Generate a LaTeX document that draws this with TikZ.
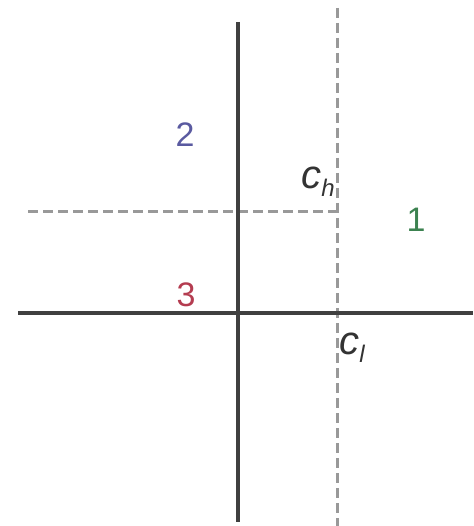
\documentclass[tikz,border=0pt]{standalone}
\usepackage{fontspec}
\setmainfont{Liberation Sans}
\begin{document}
\begin{tikzpicture}[x=1pt,y=-1pt,
  solidax/.style={line width=3.5pt,draw=black!75},
  dashax/.style={line width=3pt,draw=black!40,dash pattern=on 10pt off 5pt},
  lbl/.style={font=\fontsize{34}{34}\selectfont,inner sep=0pt}]
\useasboundingbox (0,0) rectangle (473,526);
\coordinate (vt) at (238,22); \coordinate (vb) at (238,522);
\coordinate (hl) at (18,313); \coordinate (hr) at (473,313);
\coordinate (dvt) at (337,8); \coordinate (dvb) at (337,526);
\coordinate (dhl) at (28,212); \coordinate (dhr) at (337,212);
\draw[dashax] (dvt) -- (dvb);
\draw[dashax] (dhl) -- (dhr);
\draw[solidax] (vt) -- (vb);
\draw[solidax] (hl) -- (hr);
\node[lbl,text={rgb,255:red,90;green,90;blue,160}] (n2) at (185,135) {2};
\node[lbl,text={rgb,255:red,60;green,130;blue,80}] (n1) at (416,220) {1};
\node[lbl,text={rgb,255:red,180;green,60;blue,80}] (n3) at (186,295) {3};
\node[inner sep=0pt,text=black!80] (ch) at (318,182) {\fontsize{40}{40}\selectfont\itshape c\raisebox{-8pt}{\fontsize{24}{24}\selectfont h}};
\node[inner sep=0pt,text=black!80] (cl) at (352,348) {\fontsize{40}{40}\selectfont\itshape c\raisebox{-8pt}{\fontsize{24}{24}\selectfont l}};
\end{tikzpicture}
\end{document}
